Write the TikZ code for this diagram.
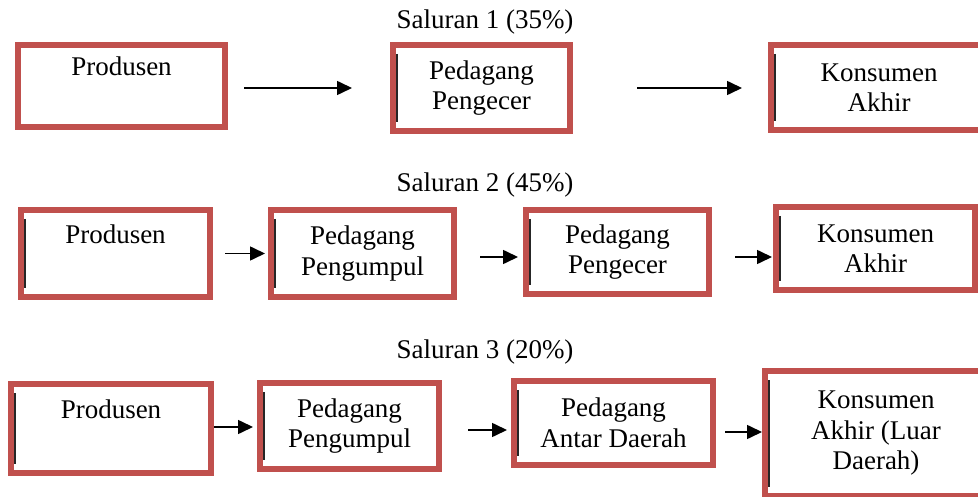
\documentclass[tikz,border=0pt]{standalone}
\usepackage{fontspec}
\setmainfont{Liberation Serif}
\usetikzlibrary{arrows.meta}
\definecolor{merahbata}{RGB}{192,80,77}

\begin{document}
\begin{tikzpicture}[x=1pt,y=-1pt,
    kotak/.style={rectangle,draw=merahbata,line width=6pt,outer sep=3pt,inner sep=2pt,
      align=center,font=\fontsize{27}{30.5}\selectfont},
    garis/.style={path picture={\draw[line width=1.2pt,black!85]
      ([xshift=4pt,yshift=-9pt]path picture bounding box.north west) --
      ([xshift=4pt,yshift=9pt]path picture bounding box.south west);}},
    judul/.style={font=\fontsize{27}{30.5}\selectfont},
    panah/.style={-{Triangle[length=15pt,width=14pt]},line width=1.6pt}]
  \clip (0,0) rectangle (978,497);

  % Saluran 1
  \node[judul] (t1) at (485,22) {Saluran 1 (35\%)};
  \node[kotak,minimum width=207pt,minimum height=82pt] (p1) at (121.5,86) {Produsen\\ \strut};
  \node[kotak,garis,minimum width=177pt,minimum height=86pt] (g1) at (481.5,88) {Pedagang\\Pengecer};
  \node[kotak,garis,minimum width=216pt,minimum height=85pt] (k1) at (879,87.5) {Konsumen\\Akhir};
  \draw[panah,shorten <=16pt,shorten >=38pt] ([yshift=-2pt]p1.east) -- ([yshift=-2pt]p1.east -| g1.west);
  \draw[panah,shorten <=64pt,shorten >=26pt] (g1.east) -- (g1.east -| k1.west);

  % Saluran 2
  \node[judul] (t2) at (485,185) {Saluran 2 (45\%)};
  \node[kotak,garis,minimum width=189pt,minimum height=87pt] (p2) at (115.5,253.5) {Produsen\\ \strut};
  \node[kotak,garis,minimum width=183pt,minimum height=87pt] (g2) at (362.5,253.5) {Pedagang\\Pengumpul};
  \node[kotak,garis,minimum width=183pt,minimum height=84pt] (e2) at (617.5,252) {Pedagang\\Pengecer};
  \node[kotak,garis,minimum width=199pt,minimum height=83pt] (k2) at (875.5,248.5) {Konsumen\\Akhir};
  \draw[panah,shorten <=12pt,shorten >=3pt] (p2.east) -- (p2.east -| g2.west);
  \draw[panah,shorten <=23pt,shorten >=5pt] ([yshift=-3.5pt]g2.east) -- ([yshift=-3.5pt]g2.east -| e2.west);
  \draw[panah,shorten <=23pt,shorten >=1pt] ([yshift=-5pt]e2.east) -- ([yshift=-5pt]e2.east -| k2.west);

  % Saluran 3
  \node[judul] (t3) at (485,352) {Saluran 3 (20\%)};
  \node[kotak,garis,minimum width=200pt,minimum height=89pt] (p3) at (111,428.5) {Produsen\\ \strut};
  \node[kotak,garis,minimum width=179pt,minimum height=86pt] (g3) at (349.5,426) {Pedagang\\Pengumpul};
  \node[kotak,garis,minimum width=199pt,minimum height=84pt] (a3) at (613.5,423) {Pedagang\\Antar Daerah};
  \node[kotak,garis,minimum width=222pt,minimum height=125pt] (k3) at (876,433.5) {Konsumen\\Akhir (Luar\\Daerah)};
  \draw[panah,shorten >=4pt] ([yshift=1.5pt]p3.east) -- ([yshift=1.5pt]p3.east -| g3.west);
  \draw[panah,shorten <=26pt,shorten >=4pt] ([yshift=-4pt]g3.east) -- ([yshift=-4pt]g3.east -| a3.west);
  \draw[panah,shorten <=9pt] ([yshift=-9pt]a3.east) -- ([yshift=-9pt]a3.east -| k3.west);
\end{tikzpicture}
\end{document}
